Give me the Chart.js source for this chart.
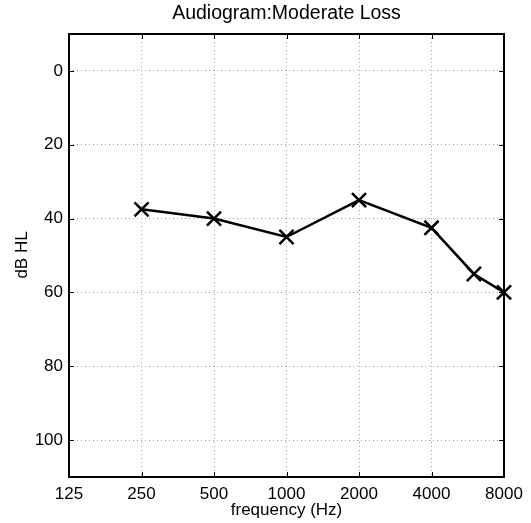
<!DOCTYPE html>
<html>
<head>
<meta charset="utf-8">
<script src="https://cdn.jsdelivr.net/npm/chart.js@4"></script>
<style>
  html, body { margin: 0; padding: 0; background: #fff; }
  #wrap { width: 531px; height: 523px; }
</style>
</head>
<body>
<div id="wrap"><canvas id="audiogram" width="531" height="523"></canvas></div>
<script>
// audiogram data
var freqs = [250, 500, 1000, 2000, 4000, 6000, 8000];
var hearingLevel = [37.5, 40, 45, 35, 42.5, 55, 60];
var freqTicks = [125, 250, 500, 1000, 2000, 4000, 8000];
var dbTicks = [0, 20, 40, 60, 80, 100];

var FONT = "'Liberation Sans', Arial, sans-serif";

// box, inner tick marks and texts in matlab style
var matlabFrame = {
  id: 'matlabFrame',
  afterDraw: function(chart) {
    var ctx = chart.ctx, a = chart.chartArea;
    var xs = chart.scales.x, ys = chart.scales.y;
    ctx.save();
    ctx.strokeStyle = '#000';
    ctx.lineWidth = 1;
    ctx.beginPath();
    freqTicks.forEach(function(f) {
      var px = Math.round(xs.getPixelForValue(f)) + 0.5;
      ctx.moveTo(px, a.bottom); ctx.lineTo(px, a.bottom - 5);
      ctx.moveTo(px, a.top); ctx.lineTo(px, a.top + 5);
    });
    dbTicks.forEach(function(d) {
      var py = Math.round(ys.getPixelForValue(d)) + 0.5;
      ctx.moveTo(a.left, py); ctx.lineTo(a.left + 5, py);
      ctx.moveTo(a.right, py); ctx.lineTo(a.right - 5, py);
    });
    ctx.stroke();
    ctx.lineWidth = 2;
    ctx.strokeRect(a.left, a.top, a.right - a.left, a.bottom - a.top);

    ctx.fillStyle = '#000';
    ctx.textAlign = 'center';
    ctx.textBaseline = 'middle';
    ctx.font = '19.5px ' + FONT;
    ctx.fillText('Audiogram:Moderate Loss', (a.left + a.right) / 2, 14);
    ctx.font = '17px ' + FONT;
    ctx.fillText('frequency (Hz)', (a.left + a.right) / 2, 510);
    ctx.translate(22, 255);
    ctx.rotate(-Math.PI / 2);
    ctx.fillText('dB HL', 0, 0);
    ctx.restore();
  }
};

new Chart(document.getElementById('audiogram'), {
  type: 'line',
  data: {
    datasets: [{
      data: freqs.map(function(f, i) { return { x: f, y: hearingLevel[i] }; }),
      borderColor: '#000',
      borderWidth: 2.5,
      pointStyle: 'crossRot',
      pointRadius: 10,
      pointBorderWidth: 2.5,
      pointBorderColor: '#000',
      fill: false,
      tension: 0,
      clip: false
    }]
  },
  options: {
    responsive: false,
    animation: false,
    layout: { padding: { top: 34, right: 27, left: 0, bottom: 0 } },
    plugins: {
      legend: { display: false },
      tooltip: { enabled: false },
      title: { display: false }
    },
    scales: {
      x: {
        type: 'logarithmic',
        min: 125,
        max: 8000,
        afterBuildTicks: function(scale) {
          scale.ticks = freqTicks.map(function(v) { return { value: v }; });
        },
        afterFit: function(scale) { scale.height = 46; },
        ticks: {
          autoSkip: false,
          maxRotation: 0,
          padding: 7,
          color: '#000',
          font: { family: FONT, size: 17 },
          callback: function(v) { return String(v); }
        },
        grid: { color: '#a0a0a0', lineWidth: 1, drawTicks: false },
        border: { display: false, dash: [1, 3] }
      },
      y: {
        type: 'linear',
        reverse: true,
        min: -10,
        max: 110,
        afterBuildTicks: function(scale) {
          scale.ticks = dbTicks.map(function(v) { return { value: v }; });
        },
        afterFit: function(scale) { scale.width = 69; },
        ticks: {
          padding: 6,
          color: '#000',
          font: { family: FONT, size: 17 }
        },
        grid: { color: '#a0a0a0', lineWidth: 1, drawTicks: false },
        border: { display: false, dash: [1, 3] }
      }
    }
  },
  plugins: [matlabFrame]
});
</script>
</body>
</html>
